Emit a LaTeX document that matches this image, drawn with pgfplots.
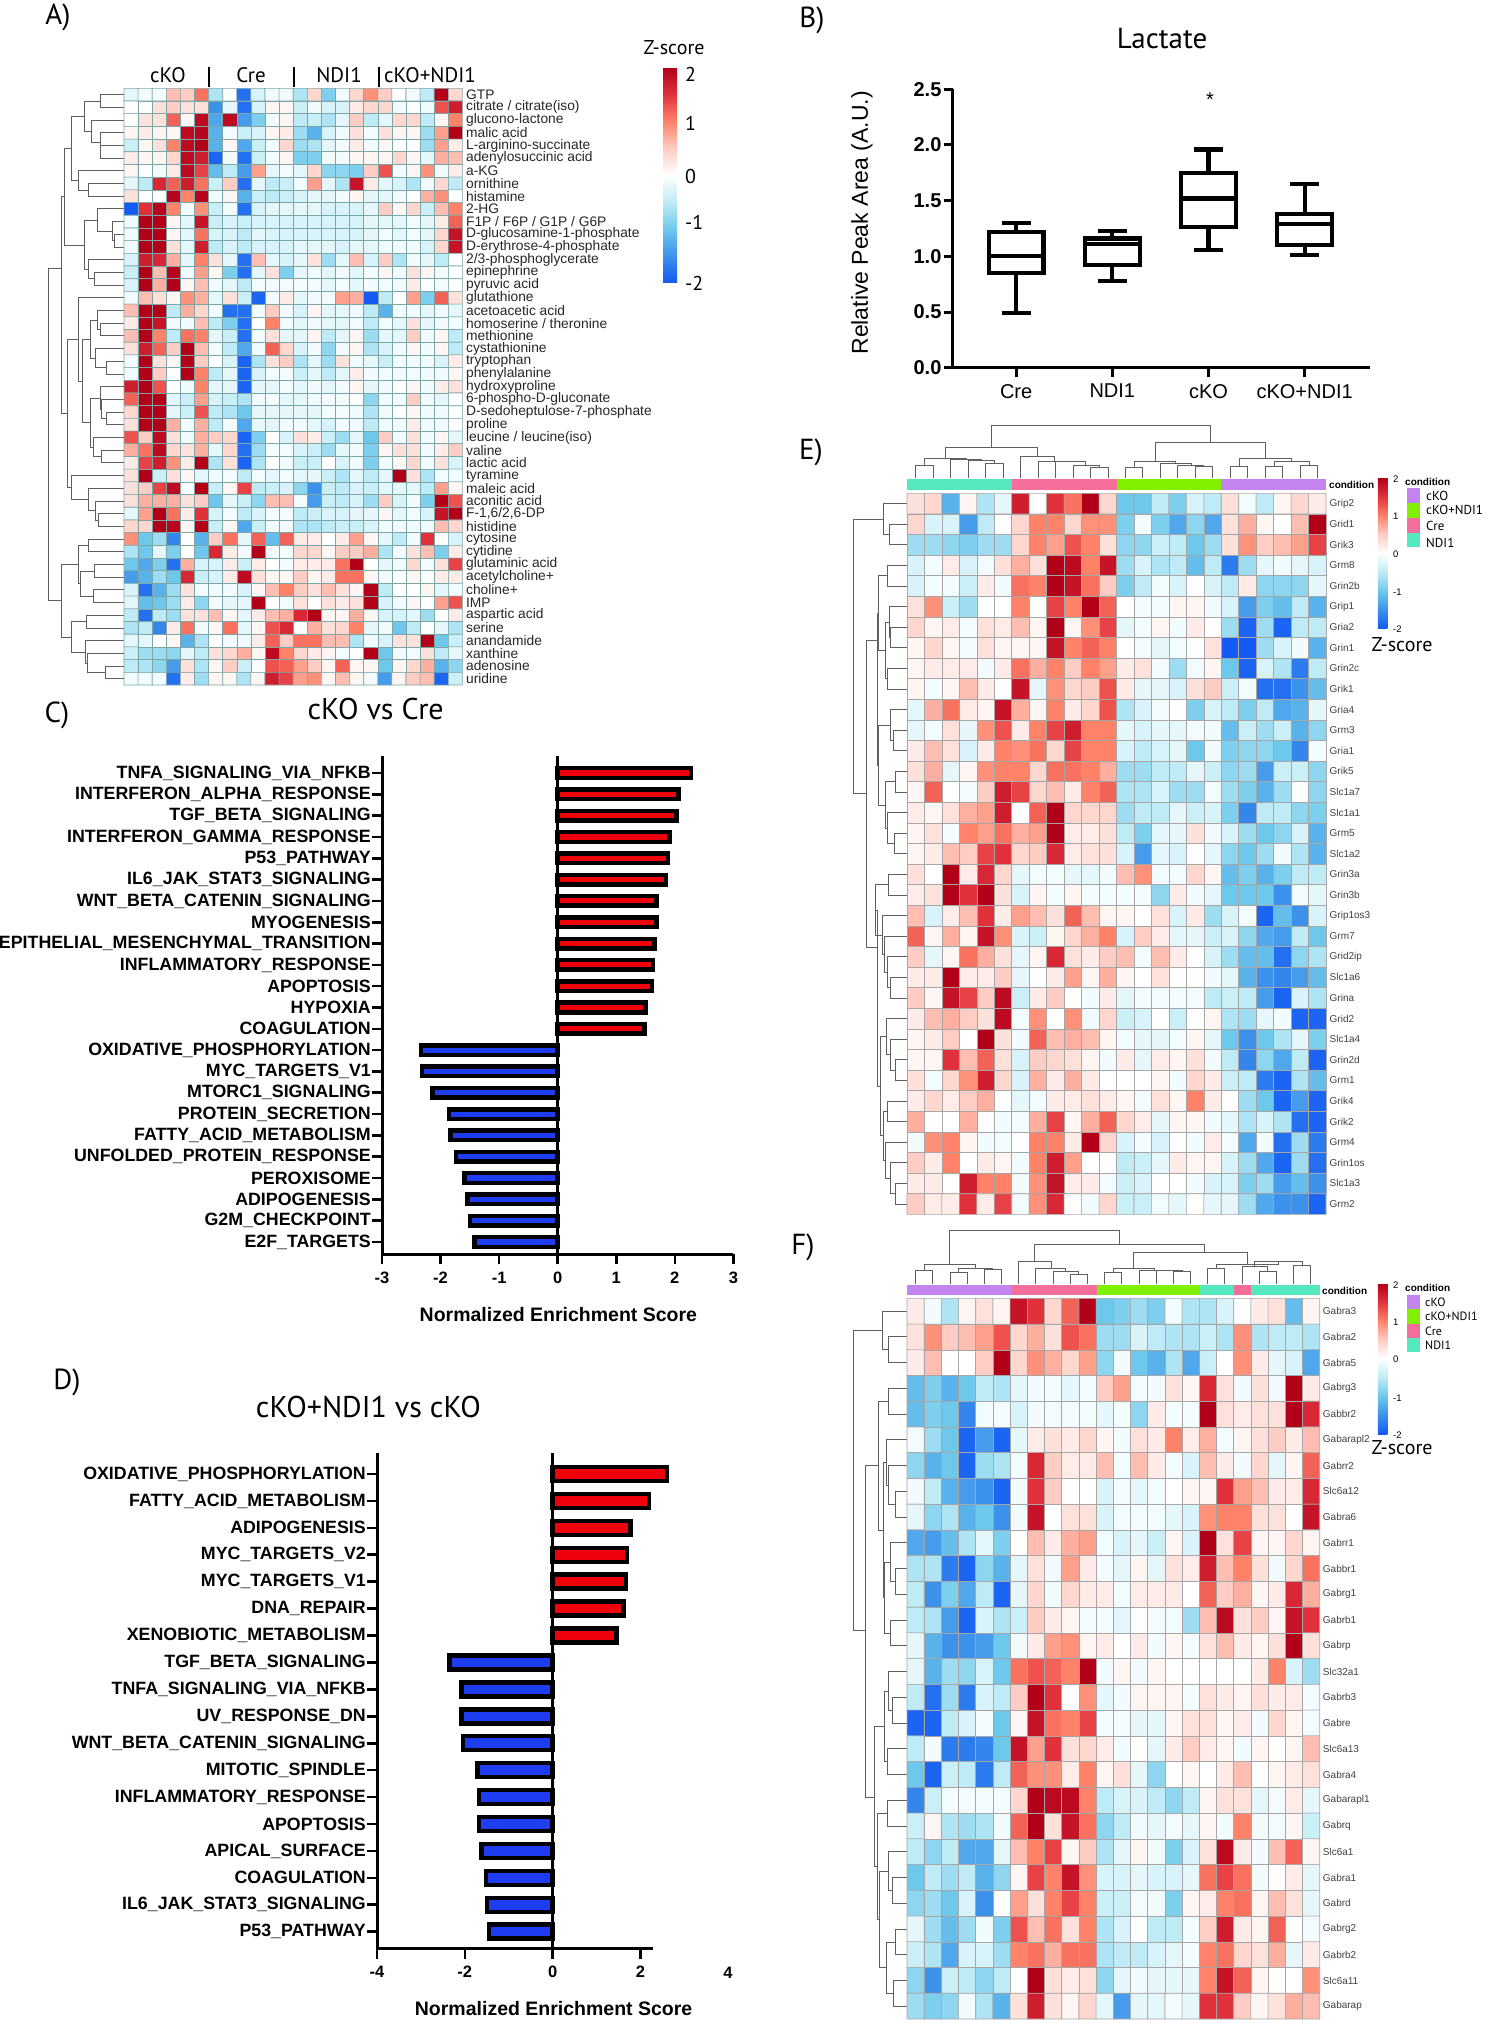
\documentclass[border=0pt]{standalone}
\usepackage{fontspec}
\setmainfont{Liberation Sans}
\newfontfamily\pt{PT Sans}
\usepackage{pgfplots}
\pgfplotsset{compat=1.18}
\usepgfplotslibrary{statistics}
\newcommand\fs[1]{\fontsize{#1}{#1}\selectfont}
\newcommand\T[4][]{\node[inner sep=0pt,#1] at (#2pt,-#3pt) {#4};}
\definecolor{cKOc}{RGB}{196,132,240}
\definecolor{cNc}{RGB}{128,240,0}
\definecolor{Crec}{RGB}{244,109,155}
\definecolor{NDIc}{RGB}{85,232,190}
\definecolor{dend}{RGB}{95,95,95}
\definecolor{gsred}{RGB}{240,0,10}
\definecolor{gsblue}{RGB}{30,60,240}
\pgfplotsset{colormap={zs}{rgb255=(20,90,245) rgb255=(60,145,235) rgb255=(110,200,235) rgb255=(190,235,245) rgb255=(255,255,255) rgb255=(255,205,195) rgb255=(255,130,105) rgb255=(225,50,60) rgb255=(178,0,25)}}
\newcount\hj \newcount\hi
\def\coords{}
\newcommand\R[2][24]{\global\hi=0 \foreach \v [count=\i from 0] in {#2} {\xdef\coords{\coords (\i,\the\hj) [\v]}\global\advance\hi by 1 }\ifnum\hi=#1 \else\errmessage{bad row \the\hj: \the\hi}\fi\global\advance\hj by 1 }
\def\D#1#2#3#4#5{\xdef\coords{\coords (#1,#2)(#5,#2)(#5,#4)(#3,#4)(nan,nan)}}
\def\V#1#2#3#4#5{\xdef\coords{\coords (#1,#2)(#1,#5)(#3,#5)(#3,#4)(nan,nan)}}
\def\doplot#1#2{\edef\temp{\noexpand\addplot[#1] coordinates {#2};}\temp}
% ---------- heat map A
\global\hj=0 \def\coords{}
\R{-.2,-.1,-.1,.6,.5,1.1,-.6,0,-1.8,-.3,-.1,-.1,-.6,.4,-.9,-.1,.4,.9,.5,0,-.1,-.5,2,.4}
\R{0,0,.3,.5,.3,.3,-1.5,-.2,-1.8,-.3,.1,.1,-.4,-.1,-.3,-.3,.2,.4,.4,-.1,0,-.1,1.3,1.7}
\R{0,.3,.3,1.2,.1,1.9,-1.3,1.9,-1.4,-.9,-.1,.1,-.5,-.4,-.6,-.2,.5,-.5,-.2,.4,.4,-.5,.1,1}
\R{.1,.2,.1,.1,1.9,1.95,-1.2,-.1,-.4,-.3,.1,.2,-.7,-1.2,-.3,-.1,.3,-.1,.3,.1,.1,-.7,.8,2}
\R{-.4,.1,.3,1,1.9,2,-1.2,.1,-1.3,-.4,-.1,.4,-.7,-.6,-.2,-.1,.2,-.1,.1,0,0,-.7,.8,.2}
\R{.2,.1,.1,.4,1.9,1.7,-1.9,-.1,-1.8,-.4,-.1,.1,-.9,-.9,-.1,-.1,.1,.1,.1,.4,.1,-.2,.7,.6}
\R{.1,0,-.1,.2,1.9,1.4,-1.1,-.5,-1.4,.8,-.2,-.1,-.2,.4,-.8,-.8,-.9,.5,1.3,-.1,.1,.9,-.1,.2}
\R{-.2,-.5,1.6,1.2,1.7,1.1,-.4,.5,-1.8,-.2,-.5,-.4,-.1,.8,-.2,-.6,1.8,.2,-.2,-.3,-.6,-.1,.4,-.5}
\R{.3,0,0,1.95,1,1.95,-.1,.1,-1.2,-.4,-.5,-.4,-.3,-.2,-.2,-.1,.1,-.2,-.2,-.1,0,.7,.9,0}
\R{-2,1.5,1.95,1,-.1,.9,-.4,-.1,-1.8,-.3,-.2,-.2,-.2,-.2,-.3,-.3,-.3,-.2,.5,.1,.4,-.4,.6,1}
\R{-.1,2,2,.1,-.2,1.8,-.4,-.3,-.4,-.3,-.3,-.3,-.3,-.3,-.3,-.3,-.3,-.2,-.2,-.2,-.1,-.2,.2,1.2}
\R{-.1,2,2,.1,-.2,1.1,-.3,-.3,-.5,-.2,-.3,-.3,-.3,-.3,-.3,-.3,-.3,-.2,-.1,-.2,-.1,-.2,.4,1.8}
\R{-.1,2,2,.3,-.2,1.7,-.5,-.3,-.5,-.3,-.3,-.3,-.2,-.2,-.2,-.3,-.2,-.2,-.1,-.1,-.1,-.3,.4,1.8}
\R{-.3,1.7,1.6,.7,-.2,1,.3,-.2,-1.8,.6,-.2,-.3,-.2,.3,-.7,-.2,.6,-.3,.5,-.6,-.1,-.2,-.5,0}
\R{-.4,2,.6,1.95,-.1,.8,.1,-.9,-1.8,-.2,.3,-.9,-.2,-.1,-.2,-.1,-.2,-.1,.1,-.1,.3,.1,-.1,0}
\R{-.3,2,.7,2,.1,.6,-.1,-.2,-.5,-.1,-.1,-.1,-.1,-.1,-.2,-.1,-.2,-.1,-.1,-.1,.2,0,-.1,0}
\R{-.1,.6,.3,.1,.9,.7,-.2,.3,-.4,-1.9,-.1,.2,-.2,-.1,-.1,.8,.7,-2,-.5,0,.8,-.9,1.2,.3}
\R{.6,2,2,-.5,.7,.4,-.1,-1.8,-1.8,-.1,.5,-.1,-.3,.1,-.2,-.2,-.1,-.5,-1.2,-.1,-.1,-.2,-.1,-.2}
\R{.2,2,1.8,-.1,-.1,.6,-.5,-.9,-1.8,0,1,-.1,-.2,-.1,-.2,-.2,-.1,-.5,-.1,-.2,.3,-.2,-.1,-.1}
\R{.6,2,1,-.5,1.1,1,-.2,-.4,-1.8,-.1,.3,-.2,-.2,.1,-.5,-.2,.1,-.7,-.2,-.2,.5,-.1,.1,-.5}
\R{.3,1.7,1.2,.5,2,.6,-.1,-.5,-1.3,-.1,1.2,.4,-.3,-.1,-.8,-.1,.1,-.6,-.3,-.1,.1,-.1,.1,-.5}
\R{-.1,2,.3,.1,2,.5,0,-.3,-1.9,-.6,.3,.5,-.6,-.2,-.7,.3,-.1,-.2,-.4,-.1,-.1,-.1,-.3,.2}
\R{-.1,2,.5,0,2,1,-.5,-.2,-1.9,-.3,-.1,-.1,-.4,-.2,-.5,-.2,.2,-.1,-.1,-.1,-.1,-.1,-.1,.1}
\R{1.7,2,1.3,0,-.1,1,-.2,-.2,-1.9,-.2,-.2,-.1,-.2,-.1,-.2,-.1,.1,-.2,-.1,0,.1,-.1,.2,.3}
\R{1.2,2,2,-.2,-.4,.8,-.3,-.4,-.6,-.1,-.1,-.2,-.2,-.1,-.1,-.1,0,-.8,-.1,-.1,.5,-.1,-.2,0}
\R{.4,2,2,-.2,-.4,1.3,-.5,-.6,-1,-.2,-.2,-.2,-.2,-.2,-.1,-.1,-.1,-.6,-.1,0,.1,-.1,-.1,0}
\R{.3,2,2,.7,-.1,.7,-.5,-.1,-1.3,-.2,-.2,-.1,-.1,-.2,-.3,-.1,-.1,-.5,-.1,-.1,.2,-.1,-.1,0}
\R{1.3,.5,1.9,.3,-.1,.7,.5,.4,-1.9,-.9,0,-.3,.3,.2,-.4,-.7,-.2,-1,.5,-.1,.3,-.1,.1,-.2}
\R{.7,1.1,1.9,.4,.3,.7,-.2,.4,-1.8,-.7,-.1,-.1,-.3,-.4,-.7,-.2,-.1,-.9,.1,.3,.3,-.1,.2,.5}
\R{.2,1.4,1.7,.9,.2,2,-.6,.3,-1.9,-.6,0,-.1,-.4,-.4,0,-.3,-.1,-.9,-.1,.1,.4,-.1,.3,-.3}
\R{.3,2,-.4,.3,.1,-.2,-.1,-.1,-.5,-.1,-.2,-.1,-.2,-.2,-.4,-.6,-.2,-.5,-.2,2,.3,-.6,-.1,-.1}
\R{.3,.5,1.4,1.9,0,2,-.4,.1,1.4,-.5,-.4,-.3,-.8,-1.5,-.4,-.5,-.3,-.4,-.2,-.2,-.2,-.5,.8,.1}
\R{.3,.7,.7,.7,.3,.5,-1,-.2,-.4,-.8,.6,.6,-.1,-1.4,-.4,-.5,-.3,-.7,.5,-.3,-.1,-.9,2,1.3}
\R{-.2,.8,2,1.1,.2,1.5,-.3,-.1,-.5,-.3,-.1,-.1,-.5,-.4,-.3,-.3,-.2,-.2,.1,-.2,-.1,-.3,1.8,2}
\R{.4,.4,2,1.95,.1,2,-.4,.1,-1.3,-.4,-.1,-.1,-.6,-.6,-.5,-.4,-.4,-.3,-.1,-.1,-.1,-.1,.6,.4}
\R{.9,-1,-.7,-1.6,0,-1.2,.5,1.1,-.2,1.2,-1.1,1.2,.2,.2,0,.2,.8,.1,-.2,-.5,-.1,1.5,0,-.3}
\R{-.6,-1,-.2,-.9,0,-1,1.6,.2,-.1,2,-.1,-.1,.4,.4,.1,.5,.5,.7,-.6,-.1,.3,.6,-.9,.2}
\R{-1,-1.3,-.9,-1.8,.7,-.3,-.3,.2,-.4,.2,0,-.1,.2,.2,.2,1.1,2,0,-.2,-.1,.4,-.1,.3,1.4}
\R{-1.4,-1.2,-.7,-1,1.6,-.4,-.3,.2,1.9,.3,.1,.1,.5,.1,.2,1.1,1.1,.1,-.1,0,.1,0,.2,.2}
\R{-.3,-1.8,-1.2,-.7,.3,-.1,-.1,-.1,-.3,.1,.6,1,.5,.3,.6,.3,.1,2,-.5,0,0,.1,-.2,-.1}
\R{-.2,-1.1,-1,-.7,.2,-.8,-.1,-.2,-.2,2,0,-.1,.3,0,.3,.2,.3,2,-.3,-.1,.1,0,.8,1.3}
\R{-.5,-1.8,-.5,-.7,.3,.3,.6,.1,-.2,.2,.6,.7,1.6,2,.1,.1,.7,.1,-.3,-.3,-.2,-.7,0,.2}
\R{-.6,-.5,-1.6,.2,1.1,-.1,.1,1.1,-.2,.1,1.3,1.6,0,.7,.3,.4,1,-.2,-.1,-1,-.5,0,-.2,-.6}
\R{-.2,-.2,0,.1,-1.2,-.6,0,-.1,-.1,.2,1.2,.5,1.1,1.1,.6,.6,-.6,-.1,-.3,.3,.3,2,-1,-.4}
\R{-.4,-.7,-.7,-.8,-.2,-.5,.3,.4,.7,.1,1.9,1,.4,.2,.1,-.1,0,2,-1,-.1,-.1,.3,-.5,-.2}
\R{-.5,-.6,-.8,-1.4,.3,-.6,.1,.5,-.4,0,1.3,1.2,.8,.5,.1,1.2,.1,.1,-1,.1,.4,.7,-1.2,-.8}
\R{-.1,-.1,-.1,-1.8,.2,-.7,.1,.1,-.6,.1,1.7,1.4,.8,.9,.1,.6,.1,-.1,-1.4,.1,.5,.6,-1.9,-.4}
\global\let\heatA\coords
% ---------- heat map E
\global\hj=0 \gdef\coords{}
\R{.3,.4,-1.2,.1,-.6,-.2,1.7,0,1.5,1.1,2,.4,-1,-1,-.5,-.9,-.3,-.5,.3,-.1,-.5,.1,.4,.2}
\R{.4,-.3,-.3,-1.4,-.5,0,.4,1,1,.4,.9,.9,-.9,-.1,-.9,-1.3,-.8,-1.3,.3,.7,.1,0,.6,2}
\R{-.7,-.7,-.8,-.9,-.7,-.7,.4,1,.8,1.3,1,.3,-.8,-.8,-.4,-.5,-1,-.7,.3,.9,.5,.6,.8,1.4}
\R{-.3,-.1,.2,-.3,-.1,.3,.7,.3,2,1.9,1,1.8,-.7,-.3,-.6,-.5,-1.1,-.5,-1.7,-.7,-.2,-.1,-.2,-.3}
\R{-.3,-.1,-.1,-.4,.2,-.1,1.1,1,2,1.8,1.1,.5,-.9,-.5,-.1,-.3,0,-.3,-.5,.2,-.8,-.8,-.8,-.2}
\R{.3,.9,-.4,-.7,0,0,1,0,1.4,1,2,1.2,0,-.1,-.1,.1,.1,-.1,-.3,-1.4,-.9,-1.1,-.5,-1.2}
\R{.4,.1,.2,-.1,.3,.2,.6,.1,2,.1,.9,1.4,-.2,-.1,.1,-.1,.2,0,-.7,-1.9,-.7,-1.9,-.5,-.5}
\R{.1,.4,.1,-.1,.3,.1,.1,.1,1.8,1,1.2,1,0,-.1,-.2,-.1,0,.3,-2,-2,-.7,-.3,-.1,-1.2}
\R{.1,.2,.2,.2,-.1,.2,1.1,.7,1,.5,1,.8,.2,.3,-.1,-.7,-.1,.1,-1,-1.9,-.3,-.6,-1.7,-.5}
\R{.1,-.1,.1,.6,.2,0,1.8,-.2,.9,.4,.5,1.3,.2,-.2,-.2,-.3,.3,.5,-.4,-.1,-1.8,-1.8,-1.5,-1.1}
\R{-.2,.7,1.1,.2,.1,1.8,.7,.1,1,.2,.4,1.3,-.6,-.3,-.1,0,-.9,-.3,-.5,-.9,-.5,-1.3,-1.2,-.2}
\R{-.2,-.1,.3,-.2,.9,1.3,.2,1,1.4,1.7,1,1,-.2,-.3,-.2,-.2,-.1,-.1,-1.1,-.4,-.7,-.4,-1.2,-.8}
\R{.2,.6,.3,-.3,.2,1,.9,1.1,.4,1.4,1,1,-.3,-.5,-.3,-.2,-1,-.1,-.9,-.8,-.8,-1,-1.6,-.1}
\R{.3,.7,-.2,.1,.9,1,1,.4,1.1,1.1,1,.7,-.7,-.7,-.5,-.5,-.2,-.4,-.8,-.7,-1.4,-.4,-.4,-.8}
\R{.1,1.2,0,-.1,.5,1.7,1.4,.4,.6,.2,1,1.2,-.6,-.6,-.3,-.7,-.7,-.1,-.7,-.9,-1.2,-.7,0,-.8}
\R{.2,.1,.3,.7,.8,1.7,0,1.2,2,.4,.4,.4,-.7,-.5,-.5,-.2,-.4,-.3,-.9,-1.6,-.5,-.5,-.8,-.9}
\R{.1,.3,-.1,1,.8,1.1,.7,.8,2,.2,.2,.3,-.5,-.9,-.2,-.2,.3,-.1,-.3,-.7,-1,-.8,-.3,-1.2}
\R{.1,.2,.6,.5,1.4,1.5,.4,.5,1.6,.2,.3,.3,-.3,-1.4,-.2,-.3,0,-.2,-.8,-1,-.7,-.1,-.6,-1.2}
\R{.3,0,2,.2,1.6,.4,-.2,-.1,-.1,-.2,-.2,-.1,.6,.9,-.1,-.1,.4,.1,-1.1,-.9,-1.2,-.9,-.5,-.5}
\R{.2,.3,2,1.5,2,.3,-.3,.1,-.1,.1,-.1,-.1,-.1,-.1,-.8,.2,-.1,-.2,-1,-1,-1,-1.5,-.1,-.2}
\R{.6,-.3,.2,.6,1.5,.2,.8,.6,.3,1.2,.6,.1,.1,0,.3,-.3,.2,-.7,-.3,-.1,-1.9,-1.1,-1.5,-.3}
\R{1.2,.1,.7,.1,1.8,.9,-.3,-.4,.1,.4,.7,1,-.3,.5,.2,-.2,-.2,-.4,-.3,-.8,-1.3,-1.4,-.5,-1}
\R{.5,-.2,.1,1.1,.7,.3,-.2,.1,1.6,.3,.2,.5,.6,-.1,.6,.2,0,-.3,-.7,-1.1,-1.1,-1.8,-.8,-.6}
\R{.2,.2,2,.2,.2,.5,-.2,0,.2,.8,.1,.7,.1,0,.3,0,0,-.1,-.2,-1.2,-1.5,-1.6,-1.4,-1.1}
\R{.5,.1,1.8,1.4,.5,1.9,-.4,.2,.5,0,-.1,.2,-.2,-.1,-.1,-.1,-.1,-.5,-.4,-.5,-1.4,-1.9,-.3,-.6}
\R{.2,.6,.7,.5,.3,1.9,-.1,.9,0,.9,-.1,.4,-.4,-.3,0,-.4,0,.1,-.6,-.7,-.2,-.1,-1.9,-1.9}
\R{.1,.2,.5,0,2,.3,-.1,1.2,.6,.7,.6,.1,-.1,-.2,-.2,-.1,.1,-.2,-1,-1.5,-1,-.6,-.2,-.9}
\R{.1,.1,1.5,.6,1.2,.3,-.3,.5,.4,.3,.1,-.1,.2,-.2,.2,.1,.3,-.1,-.5,-1.6,-.8,-1.3,-.5,-1.9}
\R{.3,-.1,.4,.9,1.7,.4,-.3,.7,.2,.7,.2,0,0,0,.1,-.1,.4,.2,-.4,-.5,-1.7,-1.9,-.6,-1.1}
\R{.2,.4,.2,.5,.7,0,-.2,-.1,.2,.2,.3,.2,.1,-.1,.3,.1,1,.2,0,-.7,-1,-1.9,-1.4,-1.9}
\R{.7,0,0,.7,0,-.1,-.1,.7,1.4,.1,.7,1.2,.4,.2,-.2,.1,.1,-.1,-.2,-.6,-.3,-.6,-1.8,-1.9}
\R{-.1,.9,1,.1,-.1,-.1,0,1,1,.2,2,.4,-.3,-.1,-.3,0,-.1,.2,-.1,-1.3,-.1,-1.8,-.7,-1.7}
\R{.5,.2,1,0,.2,.1,-.1,1,1.7,.8,0,0,-.5,-.4,-.2,.2,.1,.1,-.3,-.7,-1.3,-1.9,-.7,-1.8}
\R{.2,.2,0,1.7,1,1,-.1,.9,1.8,.2,.2,-.1,-.4,-.3,0,0,-.1,-.3,-.3,-.9,-.7,-1.4,-1.1,-1.5}
\R{.5,.2,.2,1.5,.2,1.4,-.1,.9,1.6,0,-.1,.4,-.4,-.4,-.1,-.2,0,-.2,-.2,-.7,-1.3,-1.5,-1.5,-1.9}
\global\let\heatE\coords
% ---------- heat map F
\global\hj=0 \gdef\coords{}
\R{.2,-.1,-.6,.1,.3,.1,1.8,1.5,.4,1.2,2,-1,-.9,-.7,-.9,-.1,-.6,-.6,-.3,0,.2,.3,-1.1,.1}
\R{.3,.9,.5,.6,.8,1.3,.4,.7,.3,1.3,1.1,-.7,-.7,-.3,-.5,-.6,-.6,-.4,-.6,.9,-.6,-.5,-.5,-.6}
\R{.2,.6,0,0,.5,2,.4,.9,.7,.4,.8,-.8,-.1,-1,-1.2,-.6,-1.3,-.4,0,.9,.2,-.2,-.3,-1.3}
\R{-1.1,-.9,-1.2,-1,-.5,-.6,-.2,-.1,-.1,-.2,-.1,.5,.8,-.1,-.1,.3,.1,1.6,.3,-.1,.3,-.1,2,.2}
\R{-1.1,-.9,-1,-1.6,-.1,-.1,-.3,-.1,-.1,-.1,-.1,-.2,-.1,-.8,.2,-.1,-.1,2,.3,.2,.3,.3,2,1.6}
\R{-.1,-.7,-1,-1.9,-1.4,-1.9,-.2,.2,.3,.2,.4,.1,-.1,.3,.2,1,.2,.7,-.1,.1,.3,.5,.2,.6}
\R{-.8,-1.2,-1,-1.9,-.7,-.6,-.1,1.6,.5,.2,.2,.6,-.1,.6,.2,-.1,-.3,.6,.2,-.1,.4,-.2,.1,1.2}
\R{-.1,-.5,-1.2,-1.4,-1.5,-1.9,-.1,1.5,.5,0,0,-.3,-.1,-.2,-.1,0,.1,.1,1.5,.8,.6,.2,.2,1.6}
\R{-.2,-.8,-.6,-1.2,-1,-1.5,-.1,1.8,0,.3,.3,-.3,-.1,-.1,-.1,-.2,-.3,.9,1,1,.3,.3,0,1.8}
\R{-1.3,-1.4,-1.1,-.6,-.2,-.9,0,.6,.2,.7,.8,-.1,-.3,-.2,-.4,.1,-.3,2,.3,1.4,.1,.1,.4,.1}
\R{-.6,-.6,-1.7,-1.9,-.8,-1.2,-.2,.3,-.1,.8,.2,-.1,-.2,.1,-.2,.3,.2,1.7,.6,1,.3,-.1,.4,1.1}
\R{-.5,-1.5,-.9,-1.3,-.5,-1.9,-.2,.4,-.1,.4,.2,.2,-.1,.2,.2,.2,0,1.2,.5,.7,.1,.2,1.6,.7}
\R{-.5,-.6,-1.4,-1.9,-.3,-.6,-.4,.5,.2,.1,-.1,-.1,-.2,0,-.1,-.1,-.7,.6,1.9,.3,.5,.1,1.8,1.5}
\R{-.2,-1.2,-1.5,-1.5,-1.4,-1,-.1,.2,.8,.9,.1,.2,0,.2,-.1,.1,-.1,.3,.6,.2,.1,.3,2,.3}
\R{-.2,-1.2,-.7,-.8,-.3,-1,1.1,1.3,1.2,1,2,-.1,.1,-.1,.1,0,0,0,0,0,.2,1,-.3,-.7}
\R{-.5,-1.8,-.7,-1.7,-.3,-.5,.5,2,1.5,0,.9,-.2,-.1,.1,.1,.1,-.1,.3,.2,.1,.3,.2,.2,-.1}
\R{-1.9,-1.9,-.5,-.3,-.1,-1,.1,1.8,1.1,1,1.4,-.1,-.1,-.2,-.2,.1,.3,.3,.1,.2,-.1,.4,.1,-.1}
\R{-.5,-.1,-1.7,-1.7,-1.6,-1,1.8,.8,1.5,.3,.4,.2,-.1,0,-.2,.2,.5,.2,.1,-.1,.1,0,.1,.6}
\R{-1,-1.9,-.4,-.5,-1.7,-.5,1.2,.9,.9,.2,1,.1,.3,-.2,-.8,0,.1,0,.2,.6,0,.1,.2,.3}
\R{-1.6,-.4,-.1,-.1,-.1,-.1,.4,2,1.9,1.9,1,-.5,-.3,-.3,-.5,-.8,-.5,.1,.3,.3,-.2,-.1,.2,-.2}
\R{-.4,.1,-.6,-.7,-.6,-.1,1.2,2,.3,1.8,1.1,-.8,-.5,-.1,-.2,-.1,-.2,.1,-.1,1,-.1,-.1,.1,-.4}
\R{-.5,-.8,-.5,-1.3,-1.3,-.2,.6,1,1.4,.1,.5,-.6,-.2,.1,-.1,-.9,-.3,.3,1.9,.2,-.1,.6,1.2,.1}
\R{-1,-.5,-.7,-.5,-1.2,-.8,.1,1.4,1,1.8,.9,-.3,-.3,-.2,-.3,-.3,-.2,1.1,1.4,1.1,-.1,0,.2,-.2}
\R{-.8,-.7,-1,-.3,-1.5,0,.8,.3,1,1.4,1,-.4,-.4,-.1,-.1,-.9,.1,.2,1,1.1,.1,.6,.3,-.2}
\R{-.2,-.7,-1.1,-.7,-.1,-.9,1.3,.6,1.1,.3,1,-.6,-.3,0,-.5,-.5,-.1,.5,1.7,.2,.1,1.2,0,-.1}
\R{-.4,-.6,-1.3,-.3,-.3,-.7,1,1.1,.7,1.1,1.1,-.6,-.5,-.5,-.3,-.2,-.1,1,1.1,.4,.3,.7,-.2,.2}
\R{-.8,-1.5,-.4,-.5,-.8,-.5,0,2,.3,.2,.3,-.8,-.2,-.1,-.2,-.2,-.2,1,1.8,1.2,.1,0,0,.9}
\R{-.7,-.9,-.8,-.1,-.6,-1.2,.3,1.7,.3,.1,.4,-.2,-1.4,-.2,-.2,-.1,-.2,1.5,1.5,.5,.1,.3,.7,.6}
\global\let\heatF\coords
% ---------- dendrograms
\gdef\coords{}
\D{125}{94.6}{125}{107.3}{101.7}\D{125}{145.4}{125}{158.1}{101.7}\D{125}{132.7}{101.7}{151.8}{101}\D{125}{120}{101}{142}{92.5}
\D{101.7}{101}{92.5}{131}{85.5}\D{125}{183.5}{125}{196.2}{89}\D{125}{170.8}{89}{190}{79.5}\D{85.5}{116}{79.5}{180.4}{71.7}
\D{125}{234.3}{125}{247}{115.6}\D{125}{221.6}{115.6}{240.6}{113}\D{125}{208.9}{113}{231}{98}\D{125}{272.4}{125}{285.1}{94.8}
\D{125}{259.7}{94.8}{278.8}{88.8}\D{98}{220}{88.8}{269}{84.6}\D{71.7}{148}{84.6}{245}{64.7}
\D{125}{513.7}{125}{526.4}{99.4}\D{125}{501}{99.4}{520}{95.7}\D{125}{488.3}{95.7}{510.5}{89.2}\D{125}{475.6}{89.2}{499.4}{71.7}
\D{125}{361.3}{125}{374}{107}\D{125}{348.6}{107}{367.6}{95.7}\D{125}{323.2}{125}{335.9}{101.7}\D{125}{310.5}{101.7}{329.5}{98.5}
\D{98.5}{320}{95.7}{358}{91.6}\D{125}{412.1}{125}{424.8}{107}\D{125}{399.4}{107}{418.4}{102.7}\D{125}{386.7}{102.7}{409}{101.7}
\D{125}{450.2}{125}{462.9}{102.7}\D{125}{437.5}{102.7}{456.5}{93.9}\D{101.7}{398}{93.9}{447}{91.6}\D{91.6}{339}{91.6}{422.5}{83.2}
\D{125}{297.8}{83.2}{381}{79.5}\D{71.7}{487.5}{79.5}{339}{68.4}\D{64.7}{196}{68.4}{413}{62.4}
\D{125}{539.1}{125}{551.8}{89.2}\D{125}{564.5}{125}{577.2}{94.8}\D{125}{589.9}{125}{602.6}{93.9}\D{94.8}{571}{93.9}{596}{81}
\D{89.2}{545.5}{81}{583}{78.6}\D{125}{615.3}{125}{628}{87}\D{125}{666.1}{125}{678.8}{106.4}\D{125}{653.4}{106.4}{672.5}{87.9}
\D{125}{640.7}{87.9}{663}{86.5}\D{87}{621.6}{86.5}{652}{71.7}\D{78.6}{564}{71.7}{637}{62.4}\D{62.4}{268}{62.4}{600}{48.6}
\global\let\dendA\coords
\gdef\coords{}
% E left
\D{908}{524.2}{908}{544.8}{890.8}\D{908}{503.6}{890.8}{534.5}{883.8}\D{908}{565.4}{908}{586}{888.4}\D{908}{627.2}{908}{647.8}{891.7}
\D{908}{606.6}{891.7}{637.5}{890.8}\D{908}{668.4}{908}{689}{888.4}\D{890.8}{622}{888.4}{678.7}{886}\D{888.4}{575.7}{886}{650}{879}
\D{908}{730.2}{908}{750.8}{894.5}\D{908}{709.6}{894.5}{740.5}{891.7}\D{908}{771.4}{908}{792}{896.3}\D{908}{833.2}{908}{853.8}{895.4}
\D{908}{812.6}{895.4}{843.5}{888.4}\D{896.3}{781.7}{888.4}{828}{886}\D{891.7}{725}{886}{805}{879}\D{879}{613}{879}{765}{877.8}
\D{908}{874.4}{908}{895}{889.8}\D{908}{977.4}{908}{998}{891.7}\D{908}{956.8}{891.7}{987.7}{888.4}\D{908}{936.2}{888.4}{972}{885}
\D{908}{915.6}{885}{954}{882.9}\D{889.8}{884.7}{882.9}{935}{875.9}\D{908}{1059.8}{908}{1080.4}{896.3}\D{908}{1039.2}{896.3}{1070}{891.7}
\D{908}{1018.6}{891.7}{1054.6}{887}\D{908}{1101}{908}{1121.6}{888.4}\D{908}{1183.4}{908}{1204}{896.3}\D{908}{1162.8}{896.3}{1193.7}{891.7}
\D{908}{1142.2}{891.7}{1178}{886}\D{888.4}{1111}{886}{1160}{883.8}\D{887}{1036.6}{883.8}{1135}{881.5}\D{875.9}{910}{881.5}{1086}{877.8}
\D{877.8}{640}{877.8}{947}{867.5}\D{883.8}{519}{867.5}{793}{854.5}
% E top
\V{916.8}{478}{934.4}{478}{465}\V{1004.8}{478}{987.2}{478}{463.3}\V{969.6}{478}{996}{463.3}{460.7}\V{952}{478}{983}{460.7}{459.3}
\V{925.6}{465}{967.5}{459.3}{458.3}\V{1110.4}{478}{1092.8}{478}{467.3}\V{1075.2}{478}{1101.6}{467.3}{465}\V{1057.6}{478}{1088}{465}{461.7}
\V{1040}{478}{1073}{461.7}{461.7}\V{1022.4}{478}{1056}{461.7}{456.7}\V{946.5}{458.3}{1039}{456.7}{447.7}
\V{1128}{478}{1145.6}{478}{467.3}\V{1198.4}{478}{1216}{478}{466}\V{1180.8}{478}{1207}{466}{465}\V{1163.2}{478}{1194}{465}{463.3}
\V{1136.8}{467.3}{1178.6}{463.3}{461.7}\V{1233.6}{478}{1251.2}{478}{466}\V{1304}{478}{1321.6}{478}{465}\V{1268.8}{478}{1286.4}{478}{466.7}
\V{1277.6}{466.7}{1312.8}{465}{461.7}\V{1242.4}{466}{1295}{461.7}{458.3}\V{1158}{461.7}{1269}{458.3}{442.7}\V{993}{447.7}{1213.5}{442.7}{425.7}
% F left
\D{908}{1336.9}{908}{1362.7}{889.8}\D{908}{1311.2}{889.8}{1349.8}{882.9}\D{908}{1388.4}{908}{1414.2}{889.8}\D{908}{1491.4}{908}{1517.1}{896.3}
\D{908}{1465.6}{896.3}{1504}{889.8}\D{908}{1439.9}{889.8}{1485}{887}\D{908}{1568.6}{908}{1594.3}{896.3}\D{908}{1542.9}{896.3}{1581.5}{891.7}
\D{908}{1620.1}{908}{1645.8}{891.7}\D{891.7}{1562}{891.7}{1633}{885}\D{887}{1462}{885}{1597}{883.8}\D{889.8}{1401}{883.8}{1530}{879}
\D{908}{1697.3}{908}{1723}{893}\D{908}{1671.6}{893}{1710}{889.8}\D{908}{1748.8}{908}{1774.5}{888.4}\D{889.8}{1691}{888.4}{1761.6}{885}
\D{908}{1800.3}{908}{1826}{888.4}\D{908}{1877.5}{908}{1903.2}{893}\D{908}{1851.7}{893}{1890}{889.8}\D{908}{1929}{908}{1954.7}{896.3}
\D{908}{1980.4}{908}{2006.2}{894.5}\D{896.3}{1942}{894.5}{1993}{887}\D{889.8}{1871}{887}{1967}{880.5}\D{888.4}{1813}{880.5}{1919}{877.8}
\D{885}{1726}{877.8}{1866}{875}\D{879}{1465}{875}{1797}{866.6}\D{882.9}{1330}{866.6}{1630}{854.5}
% F top
\V{916.7}{1284}{934}{1284}{1270}\V{951.3}{1284}{968.6}{1284}{1272.7}\V{985.9}{1284}{1003.2}{1284}{1269.3}\V{960}{1272.7}{994.5}{1269.3}{1268.3}
\V{925.4}{1270}{977}{1268.3}{1264}\V{1072.4}{1284}{1089.7}{1284}{1274}\V{1055.1}{1284}{1081}{1274}{1271}\V{1037.8}{1284}{1068}{1271}{1268.3}
\V{1020.5}{1284}{1053}{1268.3}{1261.7}\V{1107}{1284}{1124.3}{1284}{1272.3}\V{1176.2}{1284}{1193.5}{1284}{1271.7}\V{1158.9}{1284}{1185}{1271.7}{1270.7}
\V{1141.6}{1284}{1172}{1270.7}{1270}\V{1115.6}{1272.3}{1157}{1270}{1268.3}\V{1210.8}{1284}{1228.1}{1284}{1268.3}\V{1262.7}{1284}{1280}{1284}{1271.7}
\V{1245.4}{1284}{1271}{1271.7}{1266.7}\V{1297.3}{1284}{1314.6}{1284}{1265}\V{1258}{1266.7}{1306}{1265}{1261.7}\V{1219.5}{1268.3}{1282}{1261.7}{1264.3}
\V{1136}{1268.3}{1251}{1264.3}{1252.7}\V{1036}{1261.7}{1207.5}{1252.7}{1244}\V{951}{1264}{1121.6}{1244}{1230.7}
\global\let\dendEF\coords
\pgfplotsset{
  heat/.style={scale only axis,anchor=north west,xmin=-.5,xmax=23.5,y dir=reverse,
    xtick=\empty,axis line style={draw=none},major tick length=0pt,yticklabel pos=right,
    point meta min=-2,point meta max=2,colormap name=zs,
    colorbar,clip=false},
  gsea/.style={scale only axis,anchor=north west,clip=false,y dir=reverse,
    axis lines=left,axis line style={-,line width=3pt},tick style={black,line width=2.6pt},
    major tick length=10pt,tick align=outside,xbar,bar shift=0pt,
    yticklabel style={font=\bfseries\fs{17.8},inner xsep=1pt},
    xticklabel style={font=\bfseries\fs{16.5},yshift=-4pt}},
  over/.style={scale only axis,anchor=north west,at={(0pt,0pt)},width=1493pt,height=2023pt,xmin=0,xmax=1493,ymin=0,ymax=2023,y dir=reverse,hide axis,unbounded coords=jump,clip=false},
}
\begin{document}
\begin{tikzpicture}
\path[use as bounding box] (0,0) rectangle (1493pt,-2023pt);
% overlay in pixel coordinates, panel A
\begin{axis}[over,x filter/.expression={x*0.993}]
\doplot{draw=dend,line width=1pt,no markers,unbounded coords=jump}{\dendA}
\addplot[black,line width=2pt] coordinates {(210.4,67)(210.4,87)};
\addplot[black,line width=2pt] coordinates {(296,67)(296,87)};
\addplot[black,line width=2pt] coordinates {(381.5,67)(381.5,87)};
\end{axis}
% overlay in pixel coordinates, panels E and F
\begin{axis}[over,x filter/.expression={770+(x-770)*0.993}]
\doplot{draw=dend,line width=1pt,no markers,unbounded coords=jump}{\dendEF}
% annotation bands E
\addplot[draw=none,fill=NDIc] coordinates {(908,479.3)(1013.5,479.3)(1013.5,490)(908,490)} -- cycle;
\addplot[draw=none,fill=Crec] coordinates {(1013.5,479.3)(1119,479.3)(1119,490)(1013.5,490)} -- cycle;
\addplot[draw=none,fill=cNc] coordinates {(1119,479.3)(1224.5,479.3)(1224.5,490)(1119,490)} -- cycle;
\addplot[draw=none,fill=cKOc] coordinates {(1224.5,479.3)(1330,479.3)(1330,490)(1224.5,490)} -- cycle;
% legend E
\addplot[draw=none,fill=cKOc] coordinates {(1411,488)(1425,488)(1425,503)(1411,503)} -- cycle;
\addplot[draw=none,fill=cNc] coordinates {(1411,503)(1425,503)(1425,518)(1411,518)} -- cycle;
\addplot[draw=none,fill=Crec] coordinates {(1411,518)(1425,518)(1425,533)(1411,533)} -- cycle;
\addplot[draw=none,fill=NDIc] coordinates {(1411,533)(1425,533)(1425,547)(1411,547)} -- cycle;
% annotation bands F
\addplot[draw=none,fill=cKOc] coordinates {(908,1285)(1013.5,1285)(1013.5,1295.3)(908,1295.3)} -- cycle;
\addplot[draw=none,fill=Crec] coordinates {(1013.5,1285)(1098.8,1285)(1098.8,1295.3)(1013.5,1295.3)} -- cycle;
\addplot[draw=none,fill=cNc] coordinates {(1098.8,1285)(1202.9,1285)(1202.9,1295.3)(1098.8,1295.3)} -- cycle;
\addplot[draw=none,fill=NDIc] coordinates {(1202.9,1285)(1236.8,1285)(1236.8,1295.3)(1202.9,1295.3)} -- cycle;
\addplot[draw=none,fill=Crec] coordinates {(1236.8,1285)(1254.5,1285)(1254.5,1295.3)(1236.8,1295.3)} -- cycle;
\addplot[draw=none,fill=NDIc] coordinates {(1254.5,1285)(1323.6,1285)(1323.6,1295.3)(1254.5,1295.3)} -- cycle;
% legend F
\addplot[draw=none,fill=cKOc] coordinates {(1411,1295)(1425,1295)(1425,1309)(1411,1309)} -- cycle;
\addplot[draw=none,fill=cNc] coordinates {(1411,1309)(1425,1309)(1425,1324)(1411,1324)} -- cycle;
\addplot[draw=none,fill=Crec] coordinates {(1411,1324)(1425,1324)(1425,1338)(1411,1338)} -- cycle;
\addplot[draw=none,fill=NDIc] coordinates {(1411,1338)(1425,1338)(1425,1352)(1411,1352)} -- cycle;
\end{axis}
% ---------- A
\begin{axis}[heat,at={(124pt,-88.3pt)},width=338.4pt,height=596.7pt,ymin=-.5,ymax=46.5,
  ytick={0,...,46},
  yticklabels={GTP,citrate / citrate(iso),glucono-lactone,malic acid,L-arginino-succinate,adenylosuccinic acid,a-KG,ornithine,histamine,2-HG,F1P / F6P / G1P / G6P,D-glucosamine-1-phosphate,D-erythrose-4-phosphate,2/3-phosphoglycerate,epinephrine,pyruvic acid,glutathione,acetoacetic acid,homoserine / theronine,methionine,cystathionine,tryptophan,phenylalanine,hydroxyproline,6-phospho-D-gluconate,D-sedoheptulose-7-phosphate,proline,leucine / leucine(iso),valine,lactic acid,tyramine,maleic acid,aconitic acid,{F-1,6/2,6-DP},histidine,cytosine,cytidine,glutaminic acid,acetylcholine+,choline+,IMP,aspartic acid,serine,anandamide,xanthine,adenosine,uridine},
  yticklabel style={font=\fs{13.8},inner xsep=0pt,xshift=3.5pt,text=black!85},
  colorbar style={at={(1.593,1.0345)},anchor=north west,width=14pt,height=215pt,ytick=\empty,axis line style={draw=none}}]
\doplot{matrix plot*,draw=teal!45!gray!70,line width=.6pt,mesh/cols=24,point meta=explicit}{\heatA}
\end{axis}
% ---------- E
\begin{axis}[heat,at={(907pt,-493.3pt)},width=419pt,height=721pt,ymin=-.5,ymax=34.5,
  ytick={0,...,34},
  yticklabels={Grip2,Grid1,Grik3,Grm8,Grin2b,Grip1,Gria2,Grin1,Grin2c,Grik1,Gria4,Grm3,Gria1,Grik5,Slc1a7,Slc1a1,Grm5,Slc1a2,Grin3a,Grin3b,Grip1os3,Grm7,Grid2ip,Slc1a6,Grina,Grid2,Slc1a4,Grin2d,Grm1,Grik4,Grik2,Grm4,Grin1os,Slc1a3,Grm2},
  yticklabel style={font=\fs{10},inner xsep=0pt,xshift=3.5pt,text=black!75},
  colorbar style={at={(1.124,1.0213)},anchor=north west,width=9.5pt,height=151pt,ytick=\empty,axis line style={draw=none}}]
\doplot{matrix plot*,draw=gray!70,line width=.6pt,mesh/cols=24,point meta=explicit}{\heatE}
\end{axis}
% ---------- F
\begin{axis}[heat,at={(907pt,-1298.3pt)},width=412.7pt,height=720.7pt,ymin=-.5,ymax=27.5,
  ytick={0,...,27},
  yticklabels={Gabra3,Gabra2,Gabra5,Gabrg3,Gabbr2,Gabarapl2,Gabrr2,Slc6a12,Gabra6,Gabrr1,Gabbr1,Gabrg1,Gabrb1,Gabrp,Slc32a1,Gabrb3,Gabre,Slc6a13,Gabra4,Gabarapl1,Gabrq,Slc6a1,Gabra1,Gabrd,Gabrg2,Gabrb2,Slc6a11,Gabarap},
  yticklabel style={font=\fs{10},inner xsep=0pt,xshift=3pt,text=black!75},
  colorbar style={at={(1.141,1.0212)},anchor=north west,width=9.5pt,height=151pt,ytick=\empty,axis line style={draw=none}}]
\doplot{matrix plot*,draw=gray!70,line width=.6pt,mesh/cols=24,point meta=explicit}{\heatF}
\end{axis}
% ---------- B
\begin{axis}[scale only axis,anchor=north west,at={(952.6pt,-89.3pt)},width=417.4pt,height=278.4pt,
  xmin=.339,xmax=4.68,ymin=0,ymax=2.5,axis lines=left,axis line style={-,line width=3pt},
  tick style={black,line width=3pt},major tick length=9pt,tick align=outside,clip=false,
  xtick={1,2,3,4},xticklabels={Cre,NDI1,cKO,cKO+NDI1},
  ytick={0,.5,1,1.5,2,2.5},yticklabels={0.0,0.5,1.0,1.5,2.0,2.5},
  xticklabel style={font=\fs{20},yshift=-4pt},
  yticklabel style={font=\bfseries\fs{20},inner xsep=2pt},
  ylabel={Relative Peak Area (A.U.)},ylabel style={font=\fs{23},at={(axis description cs:0,.52)},anchor=center,yshift=90.6pt},
  title={\pt Lactate},title style={font=\fs{29},at={(axis description cs:.502,1)},anchor=center,yshift=44.3pt},
  boxplot/draw direction=y,boxplot/box extend=.57,boxplot/whisker extend=.3]
\addplot[black,line width=4.2pt,boxplot prepared={lower whisker=.488,lower quartile=.853,median=1,upper quartile=1.22,upper whisker=1.3,draw position=1}] coordinates {};
\addplot[black,line width=4.2pt,boxplot prepared={lower whisker=.78,lower quartile=.92,median=1.11,upper quartile=1.16,upper whisker=1.23,draw position=2}] coordinates {};
\addplot[black,line width=4.2pt,boxplot prepared={lower whisker=1.06,lower quartile=1.26,median=1.52,upper quartile=1.745,upper whisker=1.96,draw position=3}] coordinates {};
\addplot[black,line width=4.2pt,boxplot prepared={lower whisker=1.01,lower quartile=1.1,median=1.29,upper quartile=1.38,upper whisker=1.65,draw position=4}] coordinates {};
\end{axis}
% ---------- C
\begin{axis}[gsea,at={(382pt,-756.4pt)},width=351.4pt,height=497.9pt,xmin=-3,xmax=3,ymin=-.78,ymax=22.58,
  xtick={-3,-2,-1,0,1,2,3},xticklabels={-3,-2,-1,0,1,2,3},
  ytick={0,...,22},
  yticklabels={TNFA\_SIGNALING\_VIA\_NFKB,INTERFERON\_ALPHA\_RESPONSE,TGF\_BETA\_SIGNALING,INTERFERON\_GAMMA\_RESPONSE,P53\_PATHWAY,IL6\_JAK\_STAT3\_SIGNALING,WNT\_BETA\_CATENIN\_SIGNALING,MYOGENESIS,EPITHELIAL\_MESENCHYMAL\_TRANSITION,INFLAMMATORY\_RESPONSE,APOPTOSIS,HYPOXIA,COAGULATION,OXIDATIVE\_PHOSPHORYLATION,MYC\_TARGETS\_V1,MTORC1\_SIGNALING,PROTEIN\_SECRETION,FATTY\_ACID\_METABOLISM,UNFOLDED\_PROTEIN\_RESPONSE,PEROXISOME,ADIPOGENESIS,G2M\_CHECKPOINT,E2F\_TARGETS},
  xlabel={Normalized Enrichment Score},xlabel style={font=\bfseries\fs{19.5},at={(axis description cs:.502,0)},anchor=center,yshift=-60.2pt},
  title={\pt cKO vs Cre},title style={font=\fs{30},at={(axis description cs:-.018,1)},anchor=center,yshift=41.4pt},
  bar width=9.6pt]
\addplot[draw=black,line width=4.5pt,fill=gsred] coordinates {(2.28,0)(2.06,1)(2.03,2)(1.91,3)(1.88,4)(1.85,5)(1.69,6)(1.69,7)(1.65,8)(1.63,9)(1.61,10)(1.5,11)(1.48,12)};
\addplot[draw=black,line width=4.5pt,fill=gsblue] coordinates {(-2.33,13)(-2.32,14)(-2.14,15)(-1.86,16)(-1.83,17)(-1.74,18)(-1.59,19)(-1.54,20)(-1.5,21)(-1.42,22)};
\addplot[black,line width=3pt,forget plot,no markers,sharp plot] coordinates {(0,-.78)(0,22.58)};
\end{axis}
% ---------- D
\begin{axis}[gsea,at={(377pt,-1453pt)},width=276.4pt,height=495.6pt,xmin=-4,xmax=2.296,ymin=-.78,ymax=17.63,
  xtick={-4,-2,0,2},xticklabels={-4,-2,0,2},
  ytick={0,...,17},
  yticklabels={OXIDATIVE\_PHOSPHORYLATION,FATTY\_ACID\_METABOLISM,ADIPOGENESIS,MYC\_TARGETS\_V2,MYC\_TARGETS\_V1,DNA\_REPAIR,XENOBIOTIC\_METABOLISM,TGF\_BETA\_SIGNALING,TNFA\_SIGNALING\_VIA\_NFKB,UV\_RESPONSE\_DN,WNT\_BETA\_CATENIN\_SIGNALING,MITOTIC\_SPINDLE,INFLAMMATORY\_RESPONSE,APOPTOSIS,APICAL\_SURFACE,COAGULATION,IL6\_JAK\_STAT3\_SIGNALING,P53\_PATHWAY},
  xlabel={Normalized Enrichment Score},xlabel style={font=\bfseries\fs{19.5},at={(axis description cs:.639,0)},anchor=center,yshift=-59.4pt},
  title={\pt cKO+NDI1 vs cKO},title style={font=\fs{30},at={(axis description cs:-.031,1)},anchor=center,yshift=40pt},
  bar width=14pt]
\addplot[draw=black,line width=4.5pt,fill=gsred] coordinates {(2.61,0)(2.19,1)(1.77,2)(1.69,3)(1.67,4)(1.61,5)(1.45,6)};
\addplot[draw=black,line width=4.5pt,fill=gsblue] coordinates {(-2.35,7)(-2.08,8)(-2.08,9)(-2.04,10)(-1.71,11)(-1.68,12)(-1.68,13)(-1.62,14)(-1.52,15)(-1.5,16)(-1.45,17)};
\addplot[black,line width=3pt,forget plot,no markers,sharp plot] coordinates {(0,-.78)(0,17.63)};
\end{axis}
% ---------- free text
\T{58}{17}{\pt\fs{29}A)}
\T{812}{20}{\pt\fs{29}B)}
\T{57}{715}{\pt\fs{29}C)}
\T{67}{1382}{\pt\fs{29}D)}
\T{811}{452}{\pt\fs{29}E)}
\T{803}{1247}{\pt\fs{29}F)}
\T{168}{75}{\pt\fs{21}cKO}
\T{251}{75}{\pt\fs{21}Cre}
\T{339}{75}{\pt\fs{21}NDI1}
\T{430}{75}{\pt\fs{21}cKO+NDI1}
\T{674}{47.7}{\pt\fs{20}Z-score}
\T[anchor=west]{685}{74}{\pt\fs{20}2}
\T[anchor=west]{685}{123}{\pt\fs{20}1}
\T[anchor=west]{685}{176}{\pt\fs{20}0}
\T[anchor=west]{685}{222}{\pt\fs{20}-1}
\T[anchor=west]{685}{283}{\pt\fs{20}-2}
\T{1210}{100}{\fs{20}*}
\T{728}{1973}{\bfseries\fs{16.5}4}
% E side
\T[anchor=west]{1329}{485}{\bfseries\fs{10}condition}
\T[anchor=west]{1405}{482}{\bfseries\fs{10}condition}
\T[anchor=west]{1426}{496}{\pt\fs{13}cKO}
\T[anchor=west]{1426}{510}{\pt\fs{13}cKO+NDI1}
\T[anchor=west]{1426}{526}{\pt\fs{13}Cre}
\T[anchor=west]{1426}{543}{\pt\fs{13}NDI1}
\T[anchor=west]{1393}{479}{\fs{9.5}2}
\T[anchor=west]{1393}{516}{\fs{9.5}1}
\T[anchor=west]{1393}{554}{\fs{9.5}0}
\T[anchor=west]{1393}{592}{\fs{9.5}-1}
\T[anchor=west]{1393}{629}{\fs{9.5}-2}
\T{1402}{645}{\pt\fs{20}Z-score}
% F side
\T[anchor=west]{1322}{1290.7}{\bfseries\fs{10}condition}
\T[anchor=west]{1405}{1288}{\bfseries\fs{10}condition}
\T[anchor=west]{1425}{1302}{\pt\fs{12}cKO}
\T[anchor=west]{1425}{1316}{\pt\fs{12}cKO+NDI1}
\T[anchor=west]{1425}{1331}{\pt\fs{12}Cre}
\T[anchor=west]{1425}{1345}{\pt\fs{12}NDI1}
\T[anchor=west]{1393}{1285}{\fs{9.5}2}
\T[anchor=west]{1393}{1322}{\fs{9.5}1}
\T[anchor=west]{1393}{1359}{\fs{9.5}0}
\T[anchor=west]{1393}{1398}{\fs{9.5}-1}
\T[anchor=west]{1393}{1435}{\fs{9.5}-2}
\T{1402}{1447.7}{\pt\fs{20}Z-score}
\end{tikzpicture}
\end{document}
